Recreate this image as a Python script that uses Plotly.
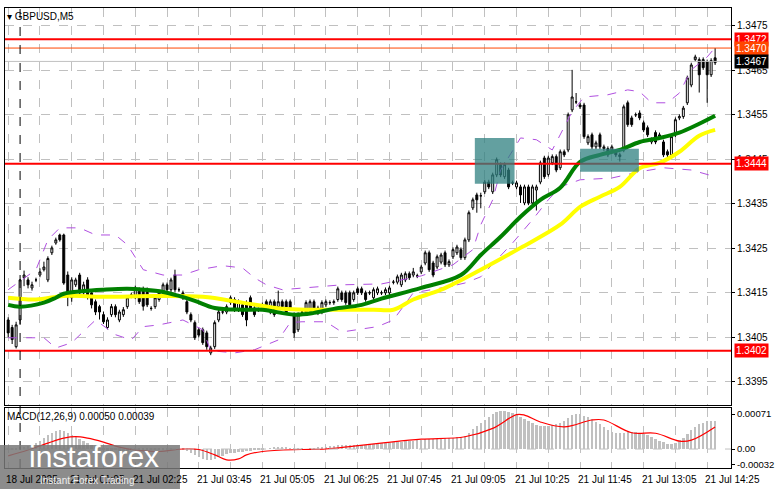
import numpy as np
import plotly.graph_objects as go

# GBPUSD M5 candles, values in pips above 1.3400
opens = [8.9, 7.2, 2.9, 8.9, 18.4, 17.9, 16.1, 17.9, 19.0, 20.2, 17.9, 24.0, 26.2, 28.0, 28.0, 19.0, 13.9, 16.8, 19.0, 15.0,
         17.9, 15.0, 13.0, 11.9, 10.1, 7.2, 10.1, 11.9, 8.9, 10.1, 11.9, 14.5, 14.1, 15.7, 15.7, 15.7, 11.5, 11.9, 13.5, 15.0,
         16.8, 15.7, 19.0, 15.7, 15.0, 13.0, 10.1, 8.3, 6.7, 6.7, 6.0, 1.5, 2.9, 8.9, 10.7, 10.7, 12.8, 13.5, 11.2, 12.3,
         12.8, 13.9, 11.6, 11.2, 12.3, 13.0, 10.7, 13.0, 11.9, 13.0, 13.0, 13.0, 10.1, 6.7, 10.7, 10.7, 11.2, 13.0, 11.6, 10.7,
         12.3, 12.8, 12.8, 13.5, 15.0, 15.0, 15.0, 13.5, 15.9, 15.9, 15.0, 15.0, 13.9, 15.0, 15.0, 15.0, 15.0, 17.4, 17.4, 16.8,
         17.9, 19.3, 19.0, 18.8, 19.7, 21.7, 24.0, 21.7, 20.8, 21.9, 24.0, 21.3, 23.1, 24.0, 24.7, 22.9, 26.9, 34.1, 37.0, 36.8,
         37.7, 39.9, 37.7, 41.5, 43.8, 41.1, 42.6, 39.7, 38.8, 38.8, 35.2, 38.8, 35.2, 38.1, 39.9, 45.3, 41.6, 44.2, 45.6, 43.1,
         46.7, 47.1, 56.1, 57.9, 57.2, 57.2, 48.7, 50.5, 47.8, 50.5, 47.4, 47.4, 47.1, 46.7, 46.0, 47.1, 57.7, 54.3, 55.0, 55.4,
         53.2, 52.1, 48.9, 51.0, 50.1, 48.9, 46.7, 46.0, 50.5, 54.3, 54.6, 57.7, 61.7, 67.4, 67.4, 67.4, 66.9, 64.0, 67.8]
highs = [9.5, 7.8, 8.5, 19.0, 20.0, 18.5, 17.5, 18.4, 20.5, 22.0, 23.2, 25.6, 27.4, 28.3, 28.3, 19.8, 18.5, 18.4, 19.5, 17.5,
         18.5, 15.5, 13.5, 12.3, 10.8, 9.5, 12.5, 12.4, 11.2, 11.8, 14.4, 15.0, 16.6, 16.2, 16.4, 16.2, 12.0, 14.4, 15.5, 17.3,
         17.3, 18.4, 20.2, 16.2, 15.5, 13.5, 10.6, 8.8, 7.2, 7.2, 6.5, 3.1, 8.8, 11.2, 11.2, 12.4, 14.4, 14.0, 13.5, 12.8,
         13.3, 14.4, 12.1, 11.7, 12.8, 13.5, 13.5, 13.5, 15.5, 13.5, 13.5, 13.5, 10.6, 10.6, 11.2, 13.3, 13.5, 13.5, 12.1, 13.3,
         13.5, 13.3, 13.5, 16.4, 15.5, 15.5, 15.5, 15.5, 16.4, 16.4, 15.5, 15.5, 16.2, 16.4, 15.5, 16.2, 16.6, 17.9, 19.1, 19.5,
         19.8, 19.8, 20.6, 19.3, 21.3, 24.5, 24.5, 22.2, 23.6, 24.0, 24.5, 22.5, 25.2, 25.8, 25.2, 27.4, 33.5, 36.4, 37.5, 37.5,
         40.4, 40.4, 42.0, 45.4, 44.3, 44.3, 43.1, 40.2, 40.2, 39.3, 39.3, 39.3, 39.3, 39.3, 44.7, 45.8, 45.8, 46.1, 46.1, 47.2,
         47.2, 55.5, 65.1, 59.9, 57.7, 57.7, 50.6, 51.0, 49.2, 51.0, 48.3, 47.9, 48.3, 47.2, 46.5, 57.3, 58.2, 54.8, 55.5, 56.0,
         53.7, 52.6, 49.9, 51.5, 51.0, 49.4, 47.2, 50.6, 54.4, 55.1, 57.0, 63.8, 66.7, 68.5, 67.9, 67.9, 67.4, 67.7, 70.0]
lows = [5.0, 3.5, 2.5, 7.8, 16.5, 16.0, 15.5, 17.4, 18.5, 19.8, 17.4, 23.5, 25.8, 26.5, 16.8, 12.0, 13.0, 16.3, 14.5, 14.5,
        13.5, 11.5, 10.0, 9.0, 8.0, 6.8, 9.6, 9.5, 8.4, 9.6, 11.4, 13.8, 13.6, 12.5, 11.0, 11.8, 11.0, 11.4, 13.0, 14.5,
        15.2, 15.2, 15.2, 15.2, 13.4, 10.2, 8.4, 4.4, 5.0, 3.3, 2.2, 1.0, 2.4, 8.4, 10.2, 10.2, 12.3, 10.7, 10.7, 9.6,
        7.5, 11.1, 9.6, 10.7, 11.4, 11.4, 10.2, 9.6, 11.4, 11.4, 10.2, 11.1, 4.9, 6.2, 10.2, 10.2, 10.7, 11.1, 10.0, 10.2,
        11.8, 12.3, 12.3, 13.0, 13.0, 12.3, 11.8, 13.0, 14.5, 14.5, 13.0, 14.5, 13.4, 14.5, 14.5, 14.5, 14.5, 16.9, 16.9, 16.3,
        17.4, 17.9, 18.5, 18.3, 19.2, 21.2, 19.7, 18.5, 20.3, 21.4, 20.8, 20.8, 22.6, 23.5, 22.4, 22.4, 26.4, 33.6, 33.0, 34.0,
        37.2, 38.3, 37.2, 41.0, 41.0, 40.6, 38.3, 39.2, 38.3, 35.2, 34.7, 34.7, 34.7, 33.5, 39.4, 40.6, 41.1, 43.7, 42.1, 42.6,
        45.5, 46.6, 55.6, 57.4, 56.3, 49.6, 48.2, 47.3, 47.3, 47.3, 46.9, 45.5, 46.6, 45.5, 44.5, 46.6, 52.3, 52.3, 54.5, 53.8,
        51.1, 50.0, 48.4, 48.4, 49.6, 45.5, 45.5, 45.5, 50.0, 53.8, 54.1, 57.2, 61.2, 66.9, 60.0, 65.1, 57.7, 63.5, 66.2]
closes = [6.0, 4.5, 7.8, 17.9, 19.0, 16.8, 16.8, 17.9, 19.7, 20.8, 22.7, 25.1, 26.9, 26.9, 17.2, 14.1, 17.9, 17.9, 15.0, 16.8,
          14.1, 12.3, 10.7, 10.7, 8.5, 8.9, 11.9, 10.1, 10.7, 11.2, 13.9, 14.5, 16.1, 13.0, 12.0, 12.3, 11.5, 13.9, 15.0, 16.8,
          15.7, 17.9, 15.7, 15.7, 13.9, 10.7, 8.9, 4.9, 5.5, 3.8, 2.9, 2.6, 8.3, 10.7, 10.7, 11.9, 13.9, 11.2, 13.0, 10.1,
          8.9, 11.6, 10.1, 11.2, 11.9, 11.9, 13.0, 10.1, 13.0, 11.9, 10.7, 11.6, 6.0, 10.1, 10.7, 12.8, 13.0, 11.6, 10.5, 12.8,
          13.0, 12.8, 13.0, 15.9, 13.5, 12.8, 12.3, 15.0, 15.0, 15.0, 13.5, 15.0, 15.7, 15.9, 15.0, 15.7, 16.1, 17.4, 18.6, 19.0,
          19.3, 18.4, 19.7, 18.8, 20.8, 24.0, 20.2, 19.0, 23.1, 23.5, 21.3, 22.0, 24.7, 25.3, 22.9, 26.9, 33.0, 35.9, 35.9, 36.8,
          39.9, 38.8, 41.5, 44.9, 41.5, 43.8, 38.8, 39.7, 39.7, 37.0, 38.8, 35.2, 38.8, 38.8, 44.2, 41.1, 45.3, 45.6, 42.6, 46.7,
          46.0, 55.0, 59.0, 57.9, 56.8, 50.1, 50.1, 47.8, 48.7, 47.8, 47.8, 46.0, 47.8, 46.0, 45.6, 56.8, 52.8, 52.8, 55.0, 54.3,
          51.6, 50.5, 49.4, 48.9, 50.5, 46.0, 46.0, 50.1, 53.9, 54.6, 56.5, 63.3, 66.2, 68.0, 64.0, 65.6, 64.0, 67.2, 66.7]

# moving averages and Bollinger bands, read at sample bars (bar index, pips)
ma_fast_idx = [0, 3, 9, 12, 14, 19, 24, 30, 34, 39, 43, 47, 52, 59, 64, 72, 77, 82, 89, 94, 104, 114, 119, 124, 129, 134,
               139, 144, 149, 154, 159, 164, 169, 174, 178]
ma_fast = [12.3, 11.9, 12.8, 13.9, 14.8, 15.4, 15.7, 15.9, 15.7, 15.2, 14.3, 13.2, 11.6, 11.2, 11.2, 10.1, 10.5, 11.4, 12.3,
           13.7, 16.1, 19.0, 23.5, 27.6, 32.1, 35.9, 38.6, 44.4, 46.0, 47.1, 48.9, 49.8, 51.0, 53.0, 54.8]
ma_slow_idx = [0, 7, 14, 24, 37, 49, 59, 69, 77, 84, 92, 97, 102, 109, 119, 129, 139, 144, 149, 154, 159, 164, 169, 174, 178]
ma_slow = [13.9, 13.5, 14.3, 14.1, 14.3, 14.1, 12.8, 11.4, 11.2, 11.2, 11.2, 11.2, 13.5, 15.7, 20.2, 25.1, 30.3, 34.3, 36.6,
           38.8, 43.0, 44.2, 46.7, 50.3, 51.6]
bb_up_idx = [0, 7, 10, 13, 18, 22, 27, 30, 34, 39, 44, 48, 54, 59, 62, 65, 69, 74, 84, 94, 104, 112, 117, 119, 122, 124,
             127, 129, 133, 137, 142, 145, 151, 156, 159, 162, 166, 169, 172, 176, 178]
bb_up = [15.7, 20.2, 26.9, 29.6, 29.6, 28.0, 28.0, 25.8, 20.2, 19.0, 19.0, 20.2, 21.1, 20.6, 18.4, 16.8, 15.7, 16.1, 16.8,
         17.0, 18.8, 21.3, 24.7, 30.3, 35.9, 42.6, 47.1, 49.8, 49.4, 47.1, 55.7, 59.0, 59.5, 60.6, 60.2, 57.7, 57.7, 59.9,
         65.1, 68.0, 70.1]
bb_lo_idx = [0, 9, 12, 16, 22, 27, 31, 34, 38, 44, 49, 51, 57, 62, 68, 71, 74, 80, 84, 88, 93, 97, 102, 111, 115, 119,
             123, 127, 132, 136, 139, 144, 152, 159, 165, 172, 178]
bb_lo = [4.9, 4.9, 2.6, 3.8, 8.9, 5.6, 4.4, 7.4, 7.8, 8.9, 6.7, 2.0, 1.5, 2.2, 4.4, 8.3, 8.5, 8.5, 6.2, 6.7, 7.4, 8.9,
         15.0, 16.4, 17.2, 18.6, 22.4, 26.2, 31.4, 35.9, 38.8, 40.4, 40.8, 42.2, 43.1, 42.6, 41.1]

# MACD histogram per bar and signal line at sample bars (units of 1e-5)
macd_hist = [-3, -2, -1, 2, 4, 6, 8, 12, 16, 22, 28, 33, 37, 39, 36, 32, 28, 24, 20, 16, 12, 8, 4, 1, -2, -4,
             -4, -3, -4, -5, -4, -3, -3, -4, -4, -3, -3, -2, -2, -1, -1, -1, 0, 0, -1,
             -4, -8, -13, -17, -20, -22, -22, -20, -17, -14, -11, -9, -8, -7, -6, -5, -4, -3, -2, -1, 0,
             1, 2, 3, 3, 2, 1, -1, -2, -1, 0, 1, 1, 2, 3, 4, 5, 6, 7, 7, 7, 7, 8, 8, 8, 8,
             9, 10, 11, 11, 12, 12, 13, 14, 14, 15, 15, 16, 17, 18, 19, 19, 19, 20, 21, 21, 22, 23, 24, 24, 26,
             32, 40, 46, 52, 58, 64, 70, 74, 76, 76, 74, 72, 68, 64, 60, 56, 52, 49, 47, 46, 46,
             48, 50, 53, 57, 62, 68, 70, 70, 67, 64, 60, 55, 50, 44, 39, 35, 33, 32,
             33, 35, 35, 34, 32, 30, 28, 24, 20, 16, 13, 10, 9, 12, 17, 22, 30, 38, 45, 50, 53, 56, 57, 57]
sig_idx = [0, 5, 10, 14, 17, 20, 24, 28, 32, 38, 44, 48, 52, 55, 58, 60, 64, 74, 80, 87, 95, 104, 115, 122, 128, 130,
           134, 140, 147, 150, 157, 163, 169, 172, 178]
sig_val = [-14, -2, 12, 22, 25, 22, 14, 4, -2, -5, 0, -1, -12, -22, -20, -12, -5, -1, 0, 6, 13, 20, 25, 42, 70, 69,
           55, 45, 59, 59, 33, 32, 16, 18, 45]

time_idx = [0, 16, 32, 48, 64, 80, 96, 112, 128, 144, 160, 176]
time_labels = ["18 Jul 2025", "21 Jul 01:05", "21 Jul 02:25", "21 Jul 03:45", "21 Jul 05:05", "21 Jul 06:25",
               "21 Jul 07:45", "21 Jul 09:05", "21 Jul 10:25", "21 Jul 11:45", "21 Jul 13:05", "21 Jul 14:25"]

levels = [1.3472, 1.3470, 1.3467, 1.3444, 1.3402]
level_colors = ["#ff0000", "#ff4500", "#000000", "#ff0000", "#ff0000"]
zones = [(117.5, 127.5, 39.5, 49.8), (144, 158.8, 42.2, 47.4)]

def px(v):
    return 1.34 + np.array(v) / 10000

bars = np.arange(len(closes))
font = "Liberation Sans, Arial, sans-serif"

fig = go.Figure()

fig.add_trace(go.Scatter(x=bb_up_idx, y=px(bb_up), mode="lines", line=dict(color="#b04fe0", width=1, dash="dash"),
                         xaxis="x", yaxis="y"))
fig.add_trace(go.Scatter(x=bb_lo_idx, y=px(bb_lo), mode="lines", line=dict(color="#b04fe0", width=1, dash="dash"),
                         xaxis="x", yaxis="y"))
fig.add_trace(go.Scatter(x=ma_slow_idx, y=px(ma_slow), mode="lines", line=dict(color="#ffff00", width=4, shape="spline"),
                         xaxis="x", yaxis="y"))
fig.add_trace(go.Scatter(x=ma_fast_idx, y=px(ma_fast), mode="lines", line=dict(color="#008000", width=4, shape="spline"),
                         xaxis="x", yaxis="y"))
fig.add_trace(go.Candlestick(
    x=bars, open=px(opens), high=px(highs), low=px(lows), close=px(closes),
    increasing=dict(line=dict(color="black", width=1), fillcolor="white"),
    decreasing=dict(line=dict(color="black", width=1), fillcolor="black"),
    whiskerwidth=0, xaxis="x", yaxis="y"))

fig.add_trace(go.Bar(x=bars, y=np.array(macd_hist) / 1e5, marker=dict(color="#c0c0c0", line=dict(width=0)),
                     width=0.6, xaxis="x2", yaxis="y2"))
fig.add_trace(go.Scatter(x=sig_idx, y=np.array(sig_val) / 1e5, mode="lines",
                         line=dict(color="#ff0000", width=1.2, shape="spline"), xaxis="x2", yaxis="y2"))

shapes = []
for lv, col in zip(levels, level_colors):
    if col == "#000000":
        shapes.append(dict(type="line", xref="paper", x0=0, x1=1, yref="y", y0=lv, y1=lv,
                           line=dict(color="#c0c0c0", width=1)))
    else:
        shapes.append(dict(type="line", xref="paper", x0=0, x1=1, yref="y", y0=lv, y1=lv,
                           line=dict(color=col, width=2 if col == "#ff0000" else 1)))
for x0, x1, y0, y1 in zones:
    shapes.append(dict(type="rect", xref="x", yref="y", x0=x0, x1=x1, y0=1.34 + y0 / 1e4, y1=1.34 + y1 / 1e4,
                       fillcolor="rgba(47,128,128,0.75)", line=dict(width=0), layer="above"))
shapes.append(dict(type="line", xref="x", x0=3, x1=3, yref="paper", y0=0, y1=1,
                   line=dict(color="black", width=1, dash="dash")))
shapes.append(dict(type="line", xref="paper", x0=0, x1=1, yref="y2", y0=0, y1=0,
                   line=dict(color="#c0c0c0", width=1, dash="dash")))
# watermark box
shapes.append(dict(type="rect", xref="paper", yref="paper", x0=-0.01, x1=0.241, y0=-0.05, y1=0.05,
                   fillcolor="rgba(120,120,120,0.85)", line=dict(width=0), layer="above"))

annotations = []
for lv, col in zip(levels, level_colors):
    annotations.append(dict(xref="paper", x=1.0, yref="y", y=lv, text=f"{lv:.4f}", showarrow=False,
                            xanchor="left", xshift=3, bgcolor=col, font=dict(color="white", size=10, family=font),
                            borderpad=1))
for i, t in zip(time_idx, time_labels):
    annotations.append(dict(xref="x", x=i, yref="paper", y=-0.042, text=t, showarrow=False, xanchor="left",
                            xshift=-4, font=dict(color="black", size=10, family=font)))
annotations.append(dict(xref="paper", x=0.0, yref="paper", y=0.997, text="▾ GBPUSD,M5", showarrow=False,
                        xanchor="left", yanchor="top", font=dict(color="black", size=10, family=font)))
annotations.append(dict(xref="paper", x=0.0, yref="paper", y=0.128, text="MACD(12,26,9) 0.00050 0.00039",
                        showarrow=False, xanchor="left", yanchor="top", font=dict(color="black", size=10, family=font)))
annotations.append(dict(xref="paper", x=0.03, yref="paper", y=0.025, text="instaforex", showarrow=False,
                        xanchor="left", yanchor="middle", font=dict(color="white", size=30, family=font)))
annotations.append(dict(xref="paper", x=0.045, yref="paper", y=-0.028, text="Instant Forex Trading", showarrow=False,
                        xanchor="left", yanchor="middle", font=dict(color="#eeeeee", size=10, family=font)))

grid = dict(showgrid=True, gridcolor="#c0c0c0", griddash="dash", gridwidth=1)
fig.update_layout(
    width=781, height=489, margin=dict(l=5, r=50, t=8, b=21, autoexpand=False),
    paper_bgcolor="white", plot_bgcolor="white", showlegend=False,
    xaxis=dict(domain=[0, 1], range=[-0.8, 182], dtick=8, tick0=0, showticklabels=False,
               rangeslider=dict(visible=False), showline=True, linecolor="black", mirror=True, zeroline=False, **grid),
    yaxis=dict(domain=[0.137, 1], range=[1.33898, 1.34790], side="right", tick0=1.3395, dtick=0.001,
               tickformat=".4f", ticks="outside", ticklen=3, tickcolor="black",
               tickfont=dict(size=10, family=font, color="black"),
               showline=True, linecolor="black", mirror=True, zeroline=False, **grid),
    xaxis2=dict(domain=[0, 1], range=[-0.8, 182], dtick=8, tick0=0, showticklabels=False, anchor="y2",
                showline=True, linecolor="black", mirror=True, zeroline=False, **grid),
    yaxis2=dict(domain=[0, 0.13], range=[-0.000386, 0.00083], side="right", anchor="x2",
                tickvals=[0.00071, 0, -0.00032], ticktext=["0.00071", "0.00", "-0.00032"],
                ticks="outside", ticklen=3, tickcolor="black", tickfont=dict(size=9.5, family=font, color="black"),
                showgrid=False, showline=True, linecolor="black", mirror=True, zeroline=False),
    shapes=shapes, annotations=annotations, bargap=0,
)

fig.write_html("out.html", post_script="document.body.style.margin='0';",
               config={"displayModeBar": False})
